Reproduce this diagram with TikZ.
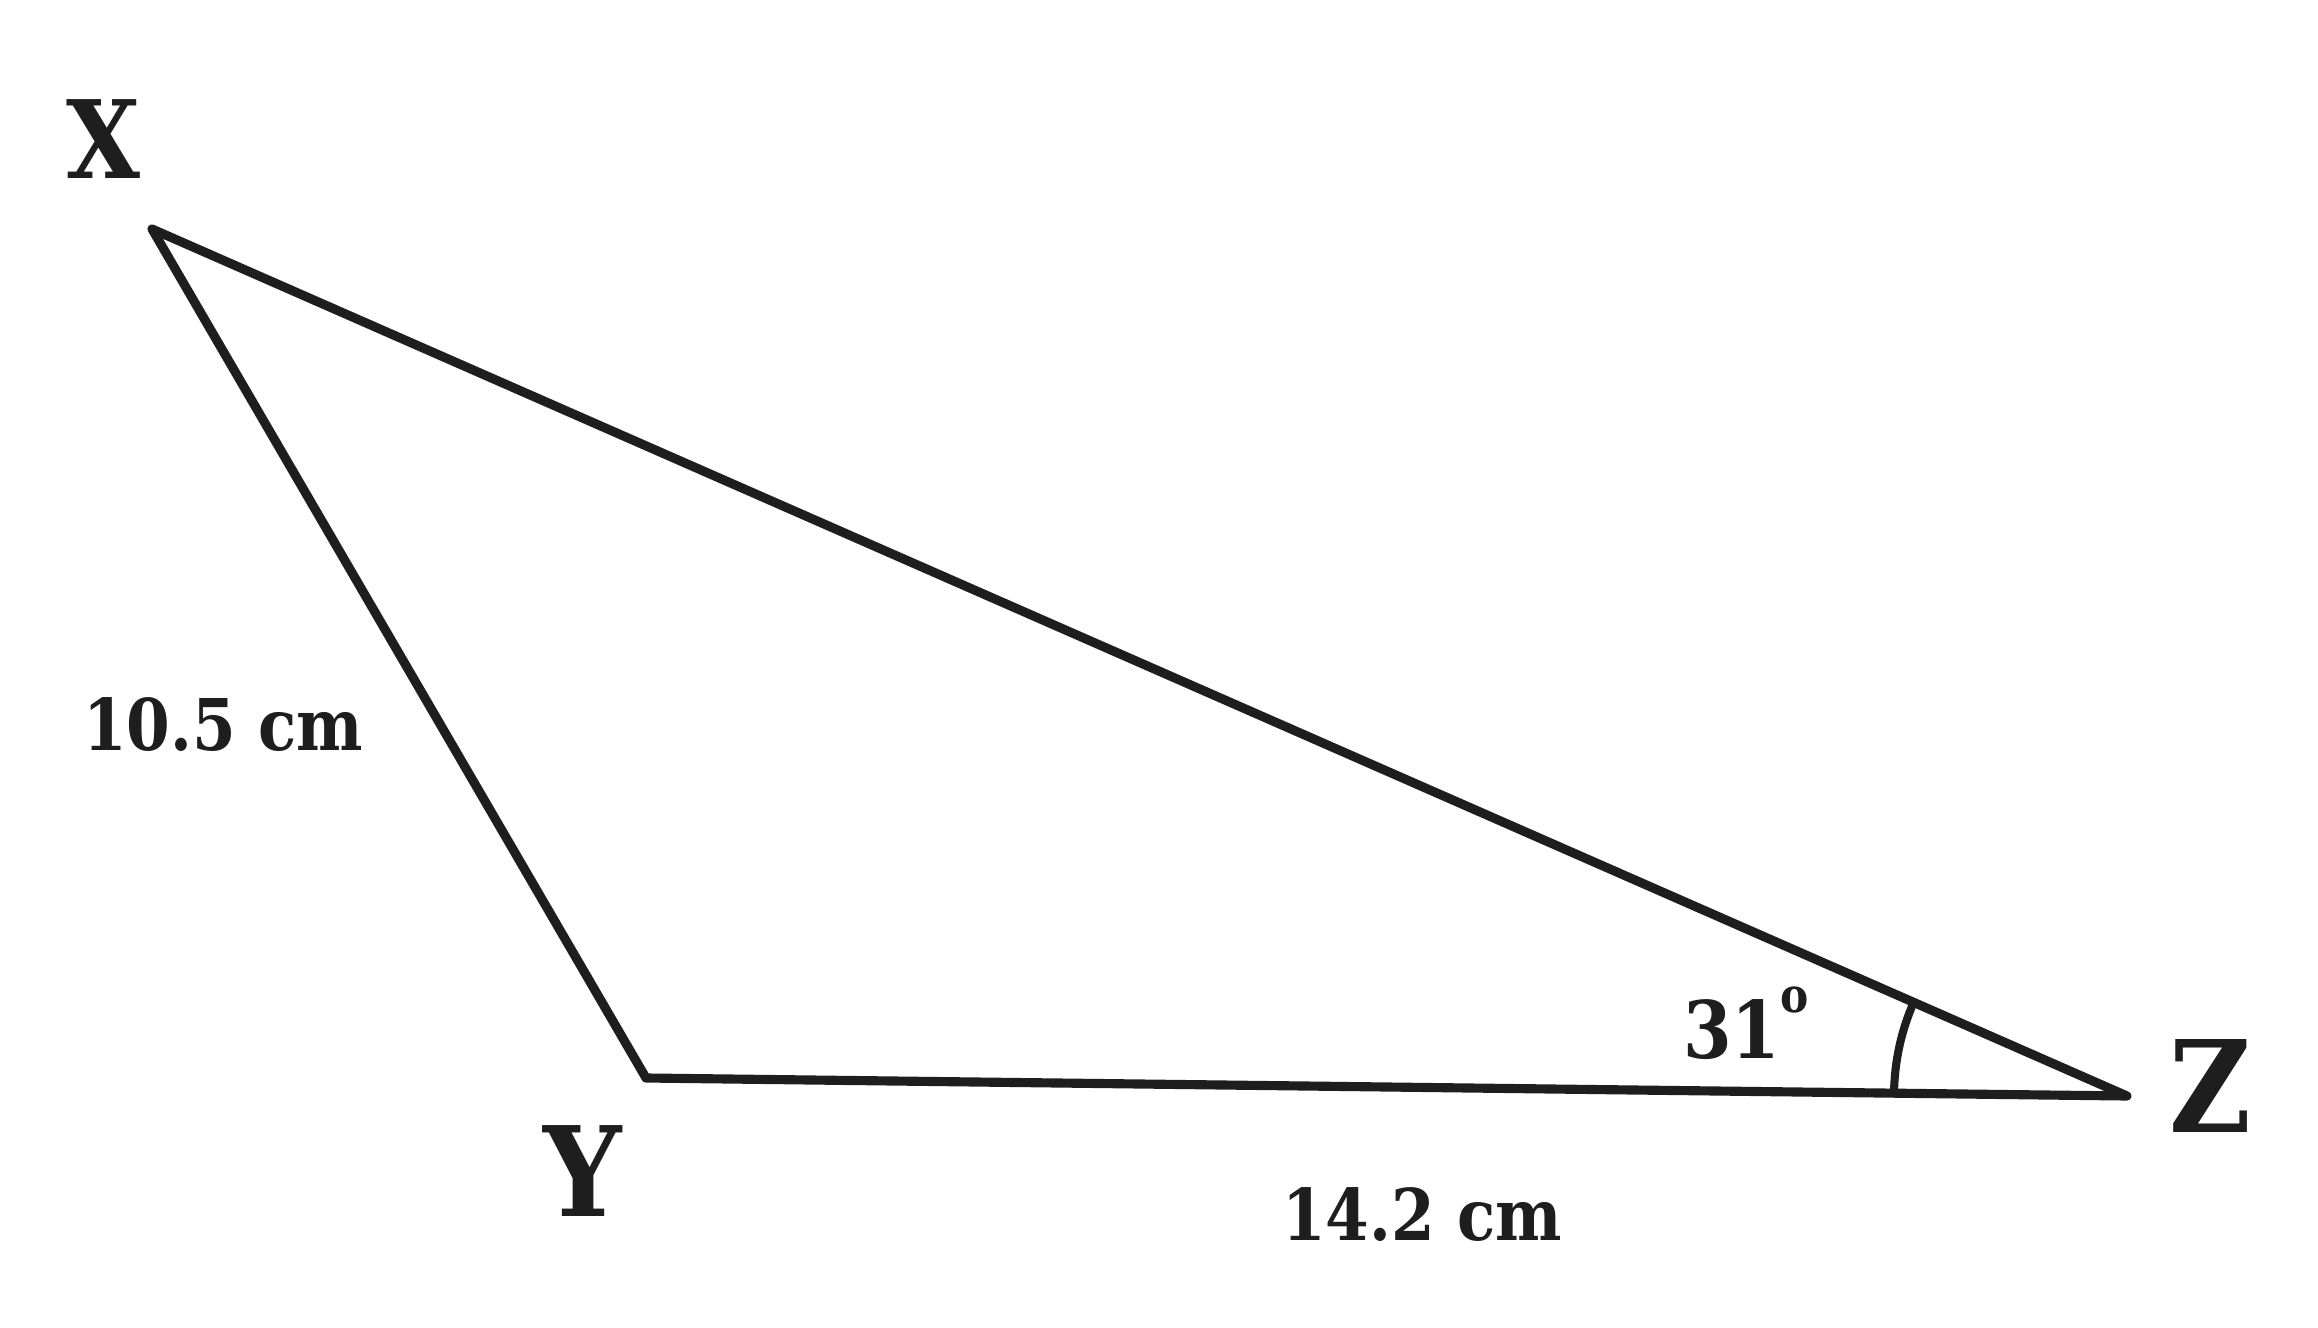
\documentclass[tikz,border=0pt]{standalone}
\usepackage{fontspec}
\setmainfont{DejaVu Serif}[FakeStretch=0.88]
\definecolor{ink}{HTML}{1E1E1E}
\tikzset{
  side/.style={line width=2.6pt, ink, line join=round, line cap=round},
  lbl/.style={anchor=base, ink, font=\bfseries\fontsize{#1}{#1}\selectfont}
}
\newcommand{\supo}{\raisebox{13pt}{\fontsize{13.7}{13.7}\selectfont o}}
\begin{document}
\begin{tikzpicture}
\useasboundingbox (0,0) rectangle (23.18,13.27);
\coordinate (vx) at (1.52,10.98);
\coordinate (vy) at (6.46,2.49);
\coordinate (vz) at (21.27,2.31);
\draw[side](vx) -- (vy) -- (vz) -- cycle;
\draw[side, line width=2.3pt]([shift={(179.3:2.33)}]vz) arc[start angle=179.3, end angle=156.3, radius=2.33];
\node[lbl=30.8] (lx) at (1.03,11.48){X};
\node[lbl=35.5] (ly) at (5.83,1.11){Y};
\node[lbl=36.3] (lz) at (22.10,1.95){Z};
\node[lbl=20.3] (lxy) at (2.23,5.77){10.5 cm};
\node[lbl=20.3] (lyz) at (14.22,0.87){14.2 cm};
\node[lbl=22.6] (lang) at (17.46,2.69){31\supo};
\end{tikzpicture}
\end{document}
